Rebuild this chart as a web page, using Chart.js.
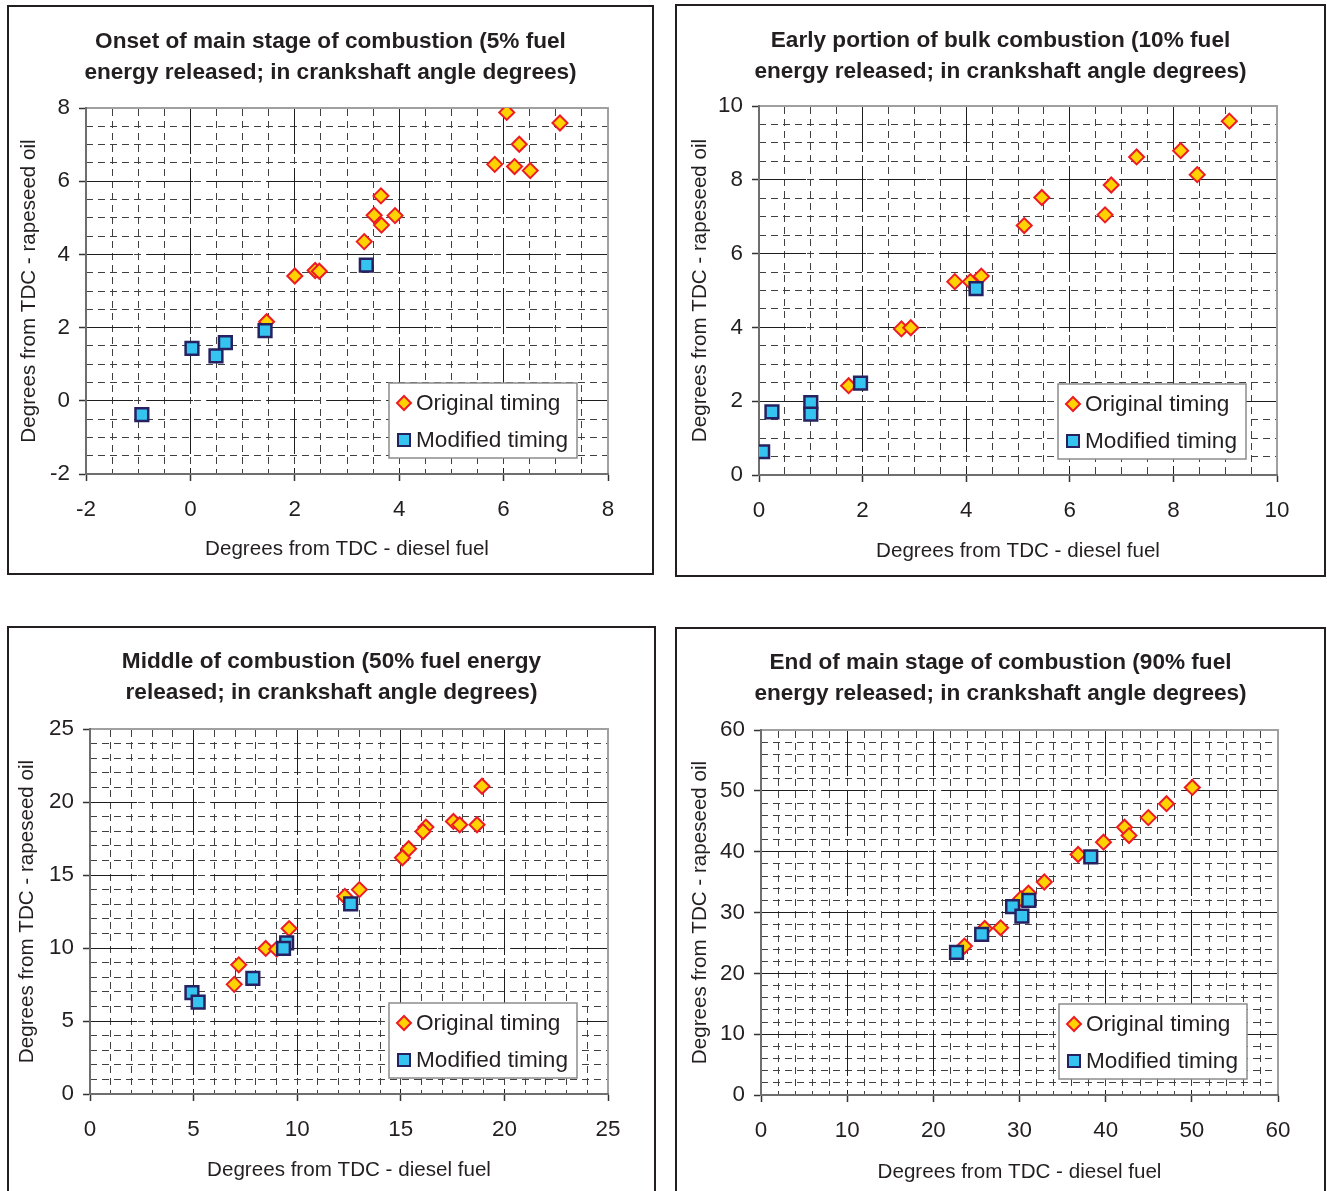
<!DOCTYPE html>
<html>
<head>
<meta charset="utf-8">
<script src="https://cdn.jsdelivr.net/npm/chart.js@4/dist/chart.umd.min.js"></script>
<style>
  body { margin: 0; background: #fff; width: 1327px; height: 1191px; overflow: hidden; position: relative; }
  .panel { position: absolute; border: 2px solid #231f20; box-sizing: border-box; background: #fff; }
  .panel canvas { position: absolute; left: 0; top: 0; }
</style>
</head>
<body>
<div class="panel" id="p1"></div>
<div class="panel" id="p2"></div>
<div class="panel" id="p3"></div>
<div class="panel" id="p4"></div>
<script>
  // 5% fuel energy released
  const onsetOrigX = [6.06, 7.08, 6.30, 5.83, 6.21, 6.51, 3.65, 3.52, 3.92, 3.66, 3.33, 2.00, 2.39, 2.47, 1.46];
  const onsetOrigY = [7.88, 7.59, 7.01, 6.46, 6.40, 6.29, 5.60, 5.07, 5.06, 4.80, 4.35, 3.41, 3.56, 3.54, 2.16];
  const onsetModX = [3.37, 1.43, 0.67, 0.03, 0.49, -0.93];
  const onsetModY = [3.71, 1.92, 1.59, 1.43, 1.23, -0.38];
  const onsetTicks = [-2, 0, 2, 4, 6, 8];

  // 10% fuel energy released
  const earlyOrigX = [9.08, 8.14, 7.29, 8.46, 6.80, 5.46, 6.68, 5.12, 3.78, 4.08, 4.29, 2.75, 2.93, 1.73];
  const earlyOrigY = [9.59, 8.79, 8.62, 8.14, 7.86, 7.52, 7.05, 6.76, 5.24, 5.24, 5.39, 3.96, 3.99, 2.42];
  const earlyModX = [4.19, 1.96, 1.00, 1.00, 0.25, 0.07];
  const earlyModY = [5.05, 2.49, 1.96, 1.65, 1.71, 0.63];
  const earlyTicks = [0, 2, 4, 6, 8, 10];

  // 50% fuel energy released
  const middleOrigX = [18.92, 17.54, 17.84, 18.68, 16.21, 16.07, 15.38, 15.08, 13.00, 12.30, 9.61, 8.48, 9.01, 7.18, 6.96];
  const middleOrigY = [21.08, 18.67, 18.44, 18.44, 18.28, 17.98, 16.80, 16.18, 14.00, 13.54, 11.33, 9.97, 9.92, 8.85, 7.51];
  const middleModX = [12.58, 9.49, 9.34, 7.86, 4.92, 5.22];
  const middleModY = [13.02, 10.35, 9.97, 7.92, 6.94, 6.30];
  const middleTicks = [0, 5, 10, 15, 20, 25];

  // 90% fuel energy released
  const endOrigX = [50.06, 47.06, 44.95, 42.19, 42.71, 39.75, 36.80, 32.88, 31.04, 30.16, 27.81, 25.97, 23.61];
  const endOrigY = [50.56, 47.89, 45.60, 44.02, 42.65, 41.56, 39.54, 35.01, 33.16, 32.28, 27.48, 27.37, 24.48];
  const endModX = [38.27, 31.08, 29.20, 30.28, 25.61, 22.69];
  const endModY = [39.16, 32.01, 30.98, 29.39, 26.39, 23.45];
  const endTicks = [0, 10, 20, 30, 40, 50, 60];

  const seriesNames = ['Original timing', 'Modified timing'];
  const xLabel = 'Degrees from TDC - diesel fuel';
  const yLabel = 'Degrees from TDC - rapeseed oil';

  const FONT = '"Liberation Sans", Arial, Helvetica, sans-serif';
  const TEXT = '#231f20';
  Chart.defaults.font.family = FONT;
  Chart.defaults.color = TEXT;

  const pts = (xs, ys) => xs.map((x, i) => ({ x: x, y: ys[i] }));

  // legend box drawn inside the plot, bottom right
  const insideLegend = {
    id: 'insideLegend',
    afterDatasetsDraw(chart) {
      const { ctx, chartArea: a } = chart;
      const w = 188, h = 75;
      const x = a.right - 31 - w, y = a.bottom - 16 - h;
      ctx.save();
      ctx.fillStyle = '#fff';
      ctx.fillRect(x, y, w, h);
      ctx.strokeStyle = '#8c8c8c';
      ctx.lineWidth = 1.5;
      ctx.strokeRect(x, y, w, h);
      chart.data.datasets.forEach((ds, i) => {
        const cx = x + 15, cy = y + 20 + i * 37;
        ctx.fillStyle = ds.backgroundColor;
        ctx.strokeStyle = ds.borderColor;
        ctx.lineWidth = 2;
        ctx.beginPath();
        if (ds.pointStyle === 'rectRot') {
          ctx.moveTo(cx, cy - 7); ctx.lineTo(cx + 7, cy); ctx.lineTo(cx, cy + 7); ctx.lineTo(cx - 7, cy);
          ctx.closePath();
        } else {
          ctx.rect(cx - 6, cy - 6, 12, 12);
        }
        ctx.fill();
        ctx.stroke();
        ctx.fillStyle = TEXT;
        ctx.font = '22.6px ' + FONT;
        ctx.textAlign = 'left';
        ctx.textBaseline = 'middle';
        ctx.fillText(ds.label, x + 27, cy + 1);
      });
      ctx.restore();
    }
  };

  function scatterPanel(id, geo, title, ticks, minor, orig, mod) {
    const [bl, bt, br, bb] = geo.box;
    const [pl, pt, pr, pb] = geo.plot;
    const panel = document.getElementById(id);
    panel.style.left = bl + 'px';
    panel.style.top = bt + 'px';
    panel.style.width = (br - bl) + 'px';
    panel.style.height = (bb - bt) + 'px';
    const cl = bl + 2, ct = bt + 2, cr = br - 2, cb = bb - 2;
    const canvas = document.createElement('canvas');
    canvas.width = cr - cl;
    canvas.height = cb - ct;
    panel.appendChild(canvas);

    const lo = ticks[0], hi = ticks[ticks.length - 1], step = ticks[1] - ticks[0];
    const titleLH = 31.4;
    const tPadTop = geo.titleY - ct - titleLH / 2;
    const tPadBottom = pt - ct - tPadTop - 2 * titleLH;

    const major = (pos, fit) => ({
      type: 'linear', position: pos, min: lo, max: hi,
      ticks: { stepSize: step, font: { size: 22.4 }, color: TEXT, padding: pos === 'bottom' ? 15 : 9 },
      grid: { color: '#1e1e1e', lineWidth: 1, tickLength: 7, tickColor: '#333', tickWidth: 1.5, tickBorderDash: [] },
      border: { display: true, color: '#6e6e6e', width: 2, dash: [46, 14] },
      title: {
        display: true, text: pos === 'bottom' ? xLabel : yLabel, color: TEXT, font: { size: 20.6 },
        padding: pos === 'bottom' ? { top: 0, bottom: cb - geo.xTitleY - 12.4 } : { top: geo.yTitleX - cl - 12.4, bottom: 0 }
      },
      afterFit: fit
    });
    const minorAxis = (pos, fit) => ({
      type: 'linear', position: pos, axis: pos === 'top' ? 'x' : 'y', min: lo, max: hi,
      ticks: { display: false, stepSize: minor, maxTicksLimit: 1000 },
      grid: { color: '#404040', lineWidth: 1, drawTicks: false },
      border: { display: true, color: '#a0a0a0', width: 2, dash: [7, 5] },
      afterFit: fit
    });

    return new Chart(canvas, {
      type: 'scatter',
      data: {
        datasets: [
          {
            label: seriesNames[0], data: orig, order: 1,
            pointStyle: 'rectRot', pointRadius: 7.5, pointHoverRadius: 7.5,
            backgroundColor: '#ffd200', borderColor: '#ed1c24', borderWidth: 2
          },
          {
            label: seriesNames[1], data: mod, order: 0,
            pointStyle: 'rect', pointRadius: 9, pointHoverRadius: 9,
            backgroundColor: '#35c4f0', borderColor: '#262262', borderWidth: 2.5
          }
        ]
      },
      options: {
        responsive: false,
        animation: false,
        events: [],
        layout: { padding: 0 },
        plugins: {
          legend: { display: false },
          tooltip: { enabled: false },
          title: {
            display: true, text: title, color: TEXT,
            font: { size: 22.6, weight: 'bold', lineHeight: titleLH / 22.6 },
            padding: { top: tPadTop, bottom: tPadBottom }
          }
        },
        scales: {
          x2: minorAxis('top', s => { s.height = 0; }),
          y2: minorAxis('right', s => { s.width = cr - pr; }),
          x: major('bottom', s => { s.height = cb - pb; }),
          y: major('left', s => { s.width = pl - cl; })
        }
      },
      plugins: [insideLegend]
    });
  }

  scatterPanel('p1',
    { box: [7, 5, 654, 575], plot: [86, 108, 608, 474], titleY: 41.5, yTitleX: 29, xTitleY: 549 },
    ['Onset of main stage of combustion (5% fuel', 'energy released; in crankshaft angle degrees)'],
    onsetTicks, 0.5, pts(onsetOrigX, onsetOrigY), pts(onsetModX, onsetModY));

  scatterPanel('p2',
    { box: [675, 4, 1326, 577], plot: [759, 106, 1277, 475], titleY: 40.5, yTitleX: 700, xTitleY: 551 },
    ['Early portion of bulk combustion (10% fuel', 'energy released; in crankshaft angle degrees)'],
    earlyTicks, 0.5, pts(earlyOrigX, earlyOrigY), pts(earlyModX, earlyModY));

  scatterPanel('p3',
    { box: [7, 626, 656, 1200], plot: [90, 729, 608, 1094], titleY: 661.5, yTitleX: 27, xTitleY: 1170 },
    ['Middle of combustion (50% fuel energy', 'released; in crankshaft angle degrees)'],
    middleTicks, 1, pts(middleOrigX, middleOrigY), pts(middleModX, middleModY));

  scatterPanel('p4',
    { box: [675, 627, 1326, 1200], plot: [761, 730, 1278, 1095], titleY: 662.5, yTitleX: 700, xTitleY: 1172 },
    ['End of main stage of combustion (90% fuel', 'energy released; in crankshaft angle degrees)'],
    endTicks, 2, pts(endOrigX, endOrigY), pts(endModX, endModY));
</script>
</body>
</html>
